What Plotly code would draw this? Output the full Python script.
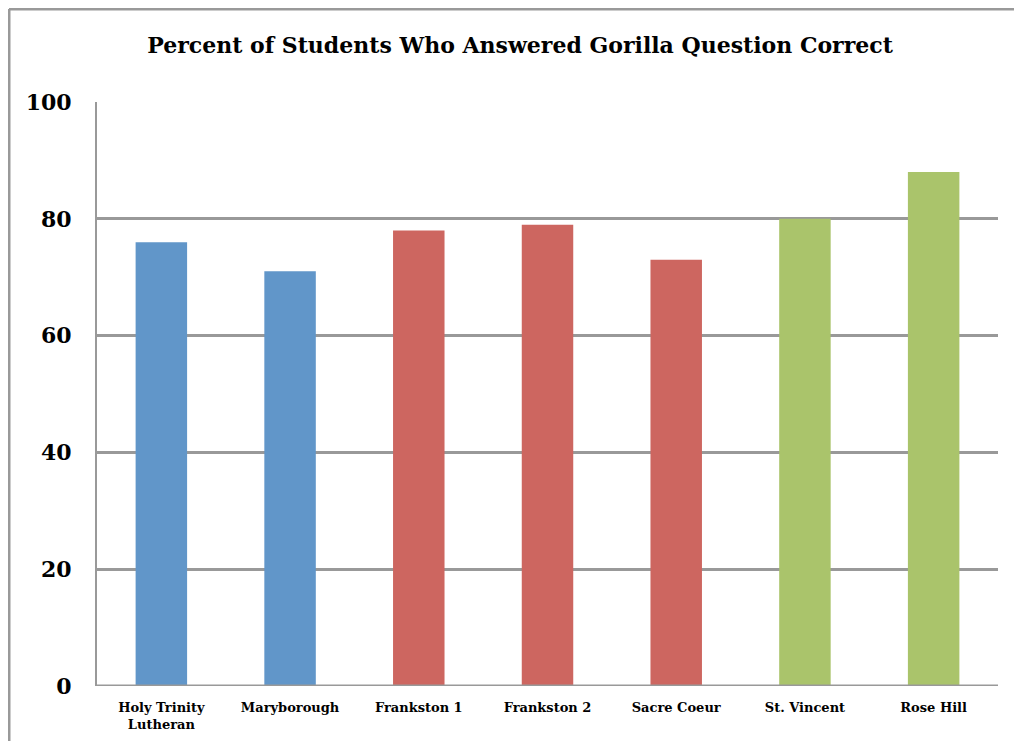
import plotly.graph_objects as go

# Data
schools = ["Holy Trinity<br>Lutheran", "Maryborough", "Frankston 1", "Frankston 2",
           "Sacre Coeur", "St. Vincent", "Rose Hill"]
percent_correct = [76, 71, 78, 79, 73, 80, 88]
bar_colors = ["#6196C9", "#6196C9", "#CD6660", "#CD6660", "#CD6660", "#AAC46B", "#AAC46B"]

fig = go.Figure()

fig.add_trace(
    go.Bar(
        x=schools,
        y=percent_correct,
        marker=dict(color=bar_colors, line=dict(width=0)),
        hoverinfo="x+y"
    )
)

serif = "DejaVu Serif"

# page has an 8px body margin, so the figure is 16px smaller than the window
W, H = 1006, 733
L, R, T, B = 89, 16, 94, 55
pw, ph = W - L - R, H - T - B

fig.update_layout(
    width=W,
    height=H,
    margin=dict(l=L, r=R, t=T, b=B),
    paper_bgcolor="white",
    plot_bgcolor="white",
    showlegend=False,
    bargap=0.6,
    title=dict(
        text="<b>Percent of Students Who Answered Gorilla Question Correct</b>",
        font=dict(family=serif, size=22, color="black"),
        x=0.509, xanchor="center",
        y=1 - 37 / H, yanchor="middle"
    ),
    xaxis=dict(
        showgrid=False,
        showline=False,
        ticks="",
        automargin=False,
        tickfont=dict(family=serif, size=13, color="black", weight="bold"),
        ticklabelstandoff=12
    ),
    yaxis=dict(
        range=[0, 100],
        tickvals=[0, 20, 40, 60, 80, 100],
        showgrid=True,
        gridcolor="#999999",
        gridwidth=3,
        showline=True,
        linecolor="#999999",
        linewidth=2,
        zeroline=False,
        ticks="",
        automargin=False,
        tickfont=dict(family=serif, size=22, color="black", weight="bold"),
        ticklabelstandoff=19
    ),
    shapes=[
        # bottom axis line
        dict(type="line", xref="paper", yref="y", x0=0, x1=1, y0=0, y1=0,
             line=dict(color="#999999", width=3)),
        # outer chart border (only top and left edges show)
        dict(type="line", xref="paper", yref="paper",
             x0=(1 - L) / pw, x1=(W - L) / pw,
             y0=(H - B - 1) / ph, y1=(H - B - 1) / ph,
             line=dict(color="#999999", width=3)),
        dict(type="line", xref="paper", yref="paper",
             x0=(1 - L) / pw, x1=(1 - L) / pw,
             y0=(H - B - 1) / ph, y1=-B / ph,
             line=dict(color="#999999", width=3)),
    ]
)

fig.write_html("out.html")
